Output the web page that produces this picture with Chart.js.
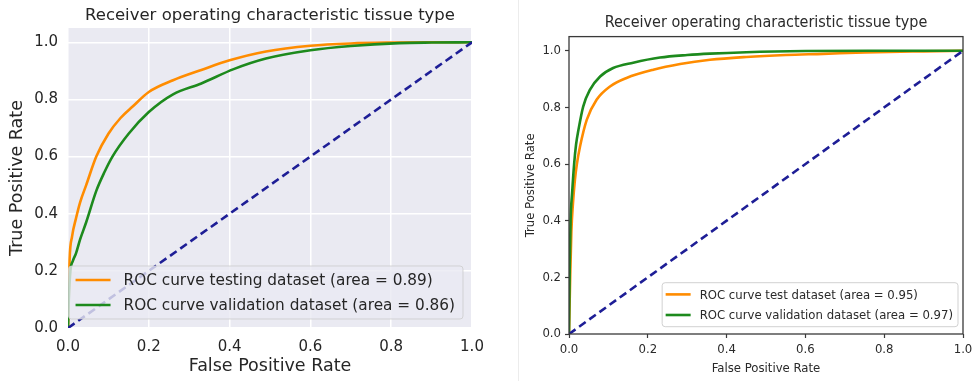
<!DOCTYPE html>
<html>
<head>
<meta charset="utf-8">
<script src="https://cdn.jsdelivr.net/npm/chart.js@4.4.1/dist/chart.umd.min.js"></script>
<style>
html,body{margin:0;padding:0;background:#fff;width:976px;height:381px;overflow:hidden}
#c1{position:absolute;left:0;top:0}
#c2{position:absolute;left:490px;top:0}
</style>
</head>
<body>
<canvas id="c1" width="490" height="381"></canvas>
<canvas id="c2" width="486" height="381"></canvas>
<script>
// ---------- data ----------
const chartTitle = 'Receiver operating characteristic tissue type';
const xAxisLabel = 'False Positive Rate';
const yAxisLabel = 'True Positive Rate';
const tickValues = [0, 0.2, 0.4, 0.6, 0.8, 1.0];
const diagX = [0, 1];
const diagY = [0, 1];

// left chart
const leftTestLabel = 'ROC curve testing dataset (area = 0.89)';
const leftTestFpr = [0, 0.002, 0.004, 0.01, 0.02, 0.03, 0.045, 0.07, 0.1, 0.13, 0.16, 0.2, 0.26, 0.33, 0.4, 0.49, 0.6, 0.7, 0.8, 0.9, 1.0];
const leftTestTpr = [0, 0.12, 0.24, 0.32, 0.385, 0.44, 0.5, 0.6, 0.68, 0.735, 0.775, 0.826, 0.867, 0.903, 0.937, 0.968, 0.988, 0.996, 0.999, 1.0, 1.0];
const leftValLabel = 'ROC curve validation dataset (area = 0.86)';
const leftValFpr = [0, 0.002, 0.006, 0.012, 0.02, 0.03, 0.045, 0.07, 0.09, 0.11, 0.15, 0.2, 0.26, 0.33, 0.41, 0.49, 0.6, 0.7, 0.82, 0.9, 1.0];
const leftValTpr = [0, 0.1, 0.2, 0.235, 0.262, 0.31, 0.37, 0.48, 0.545, 0.6, 0.68, 0.756, 0.818, 0.856, 0.906, 0.943, 0.972, 0.987, 0.997, 0.999, 1.0];

// right chart
const rightTestLabel = 'ROC curve test dataset (area = 0.95)';
const rightTestFpr = [0, 0.003, 0.006, 0.01, 0.015, 0.02, 0.028, 0.045, 0.07, 0.104, 0.146, 0.214, 0.282, 0.358, 0.45, 0.55, 0.645, 0.75, 0.9, 1.0];
const rightTestTpr = [0, 0.2, 0.36, 0.46, 0.544, 0.6, 0.662, 0.756, 0.827, 0.874, 0.904, 0.933, 0.953, 0.968, 0.978, 0.985, 0.989, 0.994, 0.998, 1.0];
const rightValLabel = 'ROC curve validation dataset (area = 0.97)';
const rightValFpr = [0, 0.002, 0.004, 0.008, 0.013, 0.018, 0.024, 0.036, 0.053, 0.079, 0.112, 0.163, 0.231, 0.3, 0.358, 0.45, 0.6, 0.8, 1.0];
const rightValTpr = [0, 0.25, 0.4, 0.5, 0.6, 0.67, 0.721, 0.803, 0.862, 0.909, 0.939, 0.958, 0.976, 0.985, 0.99, 0.995, 0.999, 1.0, 1.0];

// ---------- helpers ----------
const pts = (xs, ys) => xs.map((x, i) => ({x: x, y: ys[i]}));
const setTicks = s => { s.ticks = tickValues.map(v => ({value: v})); };
const fmt = v => Number(v).toFixed(1);
const fixX = h => s => { s.height = h; s.paddingLeft = 0; s.paddingRight = 0; };

const ORANGE = '#ff8c00';
const GREEN = '#1d8a1d';
const NAVY = '#1e1e96';

const plotBg = {
  id: 'plotBg',
  beforeDraw(chart, args, o) {
    if (!o.color) return;
    const {ctx, chartArea: a} = chart;
    ctx.save();
    ctx.fillStyle = o.color;
    ctx.fillRect(a.left, a.top, a.right - a.left, a.bottom - a.top);
    ctx.restore();
  }
};

const frame = {
  id: 'frame',
  afterDatasetsDraw(chart, args, o) {
    if (!o.color) return;
    const {ctx, chartArea: a} = chart;
    ctx.save();
    ctx.strokeStyle = o.color;
    ctx.lineWidth = o.width;
    ctx.strokeRect(a.left, a.top, a.right - a.left, a.bottom - a.top);
    ctx.restore();
  }
};

const edgeLine = {
  id: 'edgeLine',
  beforeDraw(chart, args, o) {
    if (o.x === undefined) return;
    const ctx = chart.ctx;
    ctx.save();
    ctx.strokeStyle = o.color;
    ctx.lineWidth = 1;
    ctx.beginPath();
    ctx.moveTo(o.x + 0.5, 0);
    ctx.lineTo(o.x + 0.5, chart.height);
    ctx.stroke();
    ctx.restore();
  }
};

const innerLegend = {
  id: 'innerLegend',
  afterDatasetsDraw(chart, args, o) {
    if (!o.fontSize) return;
    const ctx = chart.ctx, a = chart.chartArea;
    const items = chart.data.datasets.filter(d => d.label);
    ctx.save();
    ctx.font = o.fontSize + 'px ' + o.family;
    const tw = Math.max(...items.map(d => ctx.measureText(d.label).width));
    const w = o.padX + o.handle + o.gap + tw + o.padRight;
    const h = o.padY * 2 + items.length * o.rowH;
    const x = a.right - o.marginX - w;
    const y = a.bottom - o.marginY - h;
    ctx.beginPath();
    ctx.roundRect(x, y, w, h, o.radius);
    ctx.fillStyle = o.fill;
    ctx.fill();
    ctx.strokeStyle = o.edge;
    ctx.lineWidth = 1;
    ctx.stroke();
    items.forEach((d, i) => {
      const cy = y + o.padY + o.rowH * (i + 0.5);
      ctx.beginPath();
      ctx.moveTo(x + o.padX, cy);
      ctx.lineTo(x + o.padX + o.handle, cy);
      ctx.strokeStyle = d.borderColor;
      ctx.lineWidth = d.borderWidth;
      ctx.setLineDash([]);
      ctx.stroke();
      ctx.fillStyle = o.color;
      ctx.textBaseline = 'middle';
      ctx.textAlign = 'left';
      ctx.fillText(d.label, x + o.padX + o.handle + o.gap, cy + 1);
    });
    ctx.restore();
  }
};

Chart.register(plotBg, frame, edgeLine, innerLegend);

const lineDefaults = {showLine: true, pointRadius: 0, borderWidth: 2.6, cubicInterpolationMode: 'monotone'};

// ---------- left chart (seaborn style) ----------
const LF = "'DejaVu Sans', 'Liberation Sans', sans-serif";
const LC = '#262626';
new Chart(document.getElementById('c1'), {
  type: 'scatter',
  data: {
    datasets: [
      Object.assign({}, lineDefaults, {data: pts(diagX, diagY), borderColor: NAVY, borderDash: [8, 4.5], order: 0}),
      Object.assign({}, lineDefaults, {label: leftTestLabel, data: pts(leftTestFpr, leftTestTpr), borderColor: ORANGE, order: 2}),
      Object.assign({}, lineDefaults, {label: leftValLabel, data: pts(leftValFpr, leftValTpr), borderColor: GREEN, order: 1})
    ]
  },
  options: {
    responsive: false, animation: false, devicePixelRatio: 1,
    layout: {padding: {left: 0, right: 18, top: 0, bottom: 0}},
    plugins: {
      legend: {display: false},
      tooltip: {enabled: false},
      title: {display: true, text: chartTitle, fullSize: false, color: LC,
              font: {family: LF, size: 16.5, weight: 'normal'}, padding: {top: 5.9, bottom: 2.3}},
      plotBg: {color: '#eaeaf2'},
      innerLegend: {fontSize: 15.3, family: LF, color: LC, padX: 7, handle: 35, gap: 13, padRight: 8,
                    padY: 1.5, rowH: 25, marginX: 9, marginY: 9, radius: 3,
                    fill: 'rgba(234,234,242,0.8)', edge: 'rgba(204,204,204,0.8)'}
    },
    scales: {
      x: {type: 'linear', min: 0, max: 1,
          afterBuildTicks: setTicks, afterFit: fixX(53),
          grid: {color: '#ffffff', lineWidth: 1.5, drawTicks: false},
          border: {display: false},
          ticks: {padding: 9.7, color: LC, font: {family: LF, size: 15}, callback: fmt, maxRotation: 0, autoSkip: false},
          title: {display: true, text: xAxisLabel, color: LC, font: {family: LF, size: 17.5}, padding: {top: 0, bottom: 3.6}}},
      y: {type: 'linear', min: 0, max: 1.05,
          afterBuildTicks: setTicks, afterFit: s => { s.width = 68; },
          grid: {color: '#ffffff', lineWidth: 1.5, drawTicks: false},
          border: {display: false},
          ticks: {padding: 10, color: LC, font: {family: LF, size: 15}, callback: fmt, autoSkip: false},
          title: {display: true, text: yAxisLabel, color: LC, font: {family: LF, size: 17.5}, padding: {top: 6.5, bottom: 0}}}
    }
  }
});

// ---------- right chart (matplotlib classic style) ----------
const RF = "'DejaVu Sans Condensed', 'Liberation Sans Narrow', 'DejaVu Sans', sans-serif";
const RC = '#2a2a2a';
new Chart(document.getElementById('c2'), {
  type: 'scatter',
  data: {
    datasets: [
      Object.assign({}, lineDefaults, {data: pts(diagX, diagY), borderColor: NAVY, borderDash: [8, 4.5], order: 0}),
      Object.assign({}, lineDefaults, {label: rightTestLabel, data: pts(rightTestFpr, rightTestTpr), borderColor: ORANGE, order: 2}),
      Object.assign({}, lineDefaults, {label: rightValLabel, data: pts(rightValFpr, rightValTpr), borderColor: GREEN, order: 1})
    ]
  },
  options: {
    responsive: false, animation: false, devicePixelRatio: 1,
    layout: {padding: {left: 0, right: 13, top: 0, bottom: 0}},
    plugins: {
      legend: {display: false},
      tooltip: {enabled: false},
      title: {display: true, text: chartTitle, fullSize: false, color: RC,
              font: {family: RF, size: 16, weight: 'normal'}, padding: {top: 12.9, bottom: 4.5}},
      frame: {color: '#3a3a3a', width: 1.3},
      edgeLine: {x: 28, color: '#ececec'},
      innerLegend: {fontSize: 13, family: RF, color: RC, padX: 3.5, handle: 25, gap: 9, padRight: 5,
                    padY: 1.4, rowH: 20.6, marginX: 5, marginY: 7.3, radius: 3,
                    fill: 'rgba(255,255,255,0.8)', edge: 'rgba(204,204,204,0.9)'}
    },
    scales: {
      x: {type: 'linear', min: 0, max: 1,
          afterBuildTicks: setTicks, afterFit: fixX(47),
          grid: {drawOnChartArea: false, drawTicks: true, tickLength: 4, tickColor: '#3a3a3a', tickWidth: 1.2},
          border: {display: false},
          ticks: {padding: 4.2, color: RC, font: {family: RF, size: 13}, callback: fmt, maxRotation: 0, autoSkip: false},
          title: {display: true, text: xAxisLabel, color: RC, font: {family: RF, size: 13}, padding: {top: 0, bottom: 4.2}}},
      y: {type: 'linear', min: 0, max: 1.05,
          afterBuildTicks: setTicks, afterFit: s => { s.width = 79; },
          grid: {drawOnChartArea: false, drawTicks: true, tickLength: 4, tickColor: '#3a3a3a', tickWidth: 1.2},
          border: {display: false},
          ticks: {padding: 4, color: RC, font: {family: RF, size: 13}, callback: fmt, autoSkip: false},
          title: {display: true, text: yAxisLabel, color: RC, font: {family: RF, size: 13}, padding: {top: 33, bottom: 0}}}
    }
  }
});
</script>
</body>
</html>
